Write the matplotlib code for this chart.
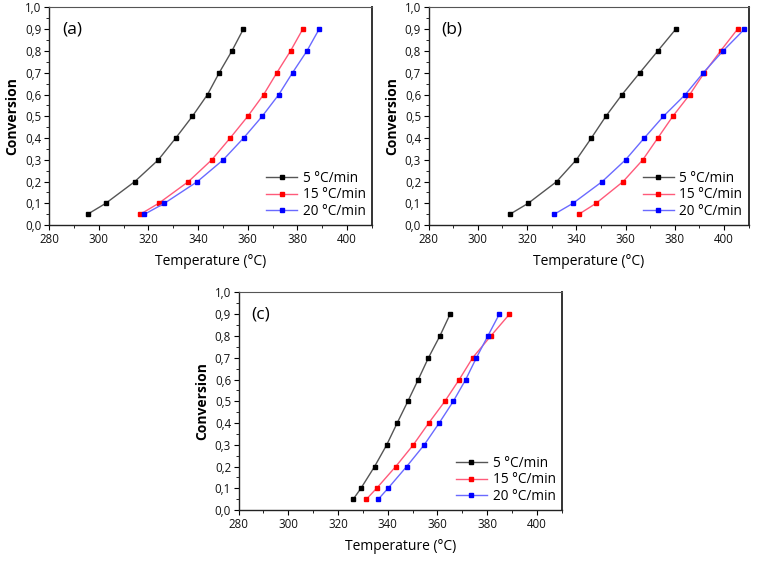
import matplotlib
matplotlib.use('Agg')
import matplotlib.pyplot as plt
from matplotlib.ticker import MultipleLocator, FuncFormatter

plt.rcParams['font.family'] = ['Open Sans', 'DejaVu Sans']

# conversion levels, same for every panel
conv = [0.05, 0.1, 0.2, 0.3, 0.4, 0.5, 0.6, 0.7, 0.8, 0.9]

# panel (a) temperatures (°C)
a_5 = [295.5, 302.8, 314.5, 324.0, 331.0, 337.7, 343.8, 348.5, 353.6, 358.2]
a_15 = [316.7, 324.1, 336.1, 345.5, 352.9, 360.0, 366.4, 371.7, 377.2, 382.1]
a_20 = [318.4, 326.4, 339.7, 350.1, 358.3, 365.8, 372.5, 378.0, 383.8, 388.7]

# panel (b)
b_5 = [313.0, 320.4, 332.0, 340.0, 346.1, 352.0, 358.6, 365.8, 373.1, 380.4]
b_15 = [341.0, 348.0, 359.0, 367.0, 373.1, 379.2, 386.1, 392.0, 398.6, 405.5]
b_20 = [331.0, 338.6, 350.5, 360.0, 367.6, 375.4, 384.3, 391.6, 399.6, 408.3]

# panel (c)
c_5 = [326.1, 329.2, 334.7, 339.6, 343.8, 348.1, 352.3, 356.4, 361.0, 365.1]
c_15 = [331.4, 335.5, 343.2, 350.3, 356.5, 363.0, 368.8, 374.2, 381.5, 389.0]
c_20 = [336.2, 340.1, 347.6, 354.7, 360.7, 366.4, 371.4, 375.7, 380.3, 384.9]

rates = ['5 °C/min', '15 °C/min', '20 °C/min']
line_cols = ['#555555', '#ff5a7a', '#6a6aff']
mark_cols = ['#000000', '#ff0000', '#0000ff']

panels = [
    ('(a)', [a_5, a_15, a_20], [0.0645, 0.605, 0.425, 0.382]),
    ('(b)', [b_5, b_15, b_20], [0.564, 0.605, 0.421, 0.382]),
    ('(c)', [c_5, c_15, c_20], [0.314, 0.105, 0.425, 0.382]),
]

fig = plt.figure(figsize=(7.6, 5.7), dpi=100)

comma = FuncFormatter(lambda v, p: ('%.1f' % v).replace('.', ','))

for lab, series, pos in panels:
    ax = fig.add_axes(pos)
    for temps, name, lc, mc in zip(series, rates, line_cols, mark_cols):
        ax.plot(temps, conv, '-', color=lc, lw=1.0, marker='s', ms=3.4,
                mfc=mc, mec=mc, label=name)
    ax.set_xlim(280, 410)
    ax.set_ylim(0, 1.0)
    ax.xaxis.set_major_locator(MultipleLocator(20))
    ax.xaxis.set_minor_locator(MultipleLocator(10))
    ax.yaxis.set_major_locator(MultipleLocator(0.1))
    ax.yaxis.set_minor_locator(MultipleLocator(0.05))
    ax.yaxis.set_major_formatter(comma)
    ax.tick_params(which='major', direction='out', length=3.5, width=0.8,
                   labelsize=8.3, pad=2, labelcolor='#111111')
    ax.tick_params(which='minor', direction='out', length=2, width=0.6)
    for s in ['left', 'bottom']:
        ax.spines[s].set_linewidth(1.0)
        ax.spines[s].set_color('#222222')
    ax.spines['right'].set_linewidth(1.4)
    ax.spines['right'].set_color('#333333')
    ax.spines['top'].set_linewidth(0.8)
    ax.spines['top'].set_color('#555555')
    ax.set_xlabel('Temperature (°C)', fontsize=10, labelpad=6)
    ax.set_ylabel('Conversion', fontsize=10, fontweight='bold', labelpad=4)
    ax.text(0.04, 0.935, lab, transform=ax.transAxes, fontsize=12.5,
            va='top', ha='left')
    ax.legend(loc='lower right', frameon=False, fontsize=9.8,
              handlelength=2.3, handletextpad=0.4, labelspacing=0.12,
              borderaxespad=0.05)

fig.savefig('out.png', dpi=100)
